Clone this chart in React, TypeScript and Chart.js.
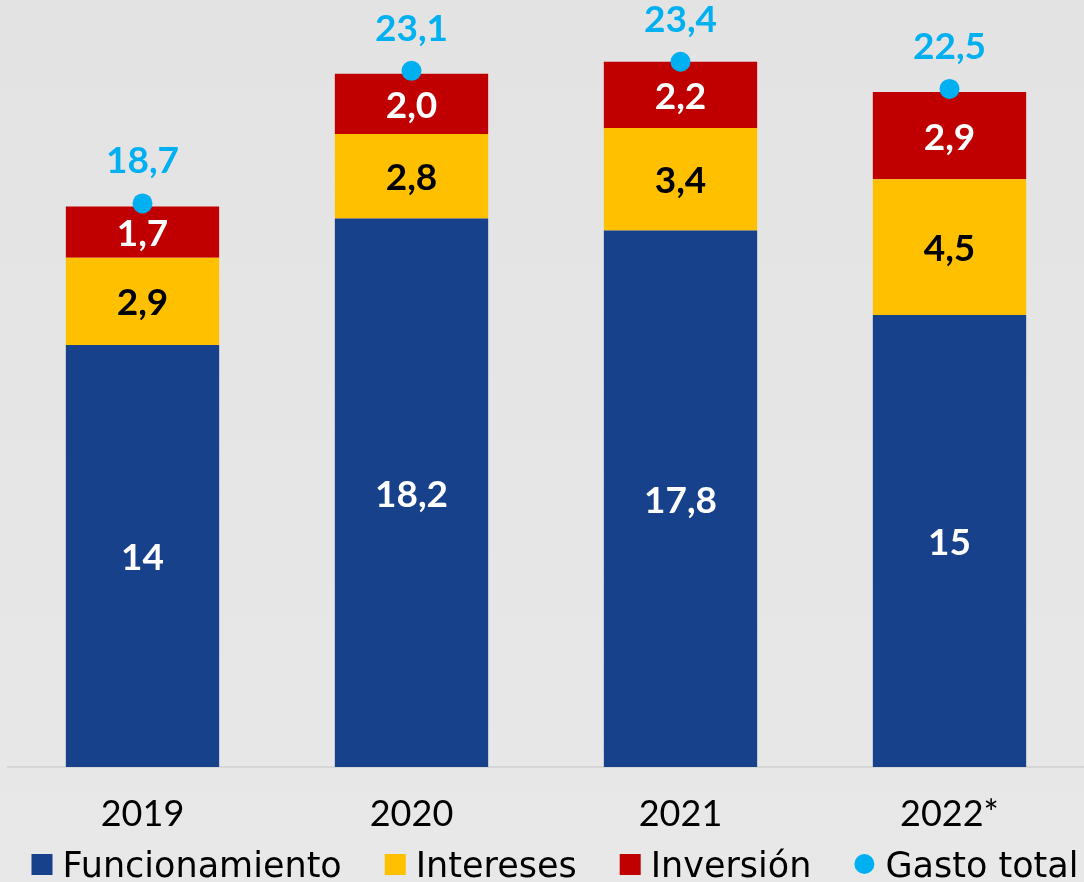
import React, { useEffect, useRef } from "react";
import { Chart, registerables } from "chart.js";

Chart.register(...registerables);

const categories = ["2019", "2020", "2021", "2022*"];
const funcionamiento = [14, 18.2, 17.8, 15];
const intereses = [2.9, 2.8, 3.4, 4.5];
const inversion = [1.7, 2.0, 2.2, 2.9];
const gastoTotal = [18.7, 23.1, 23.4, 22.5];
const seriesNames = ["Funcionamiento", "Intereses", "Inversión", "Gasto total"];
const seriesColors = ["#17418a", "#ffc000", "#c00000", "#00b0f0"];
const labelColors = ["#ffffff", "#000000", "#ffffff", "#00b0f0"];

const W = 1084;
const H = 882;

const fmtPlain = (v: number) => String(v).replace(".", ",");
const fmtOne = (v: number) => v.toFixed(1).replace(".", ",");

const bgPlugin = {
  id: "bg",
  beforeDraw(chart: any) {
    const ctx = chart.ctx;
    const g = ctx.createLinearGradient(0, 0, 0, H);
    g.addColorStop(0, "#e3e3e3");
    g.addColorStop(1, "#e8e8e8");
    ctx.save();
    ctx.fillStyle = g;
    ctx.fillRect(0, 0, chart.width, chart.height);
    ctx.restore();
  },
};

const valueLabelPlugin = {
  id: "valueLabels",
  afterDatasetsDraw(chart: any) {
    const ctx = chart.ctx;
    ctx.save();
    ctx.textAlign = "center";
    ctx.textBaseline = "middle";
    ctx.font = "bold 37px Lato";
    for (let d = 0; d < 3; d++) {
      const meta = chart.getDatasetMeta(d);
      const vals = chart.data.datasets[d].data as number[];
      meta.data.forEach((el: any, i: number) => {
        const cy = (el.y + el.base) / 2;
        ctx.fillStyle = labelColors[d];
        const txt = d === 0 ? fmtPlain(vals[i]) : fmtOne(vals[i]);
        ctx.fillText(txt, el.x, cy + 2);
      });
    }
    const pm = chart.getDatasetMeta(3);
    const pv = chart.data.datasets[3].data as number[];
    pm.data.forEach((el: any, i: number) => {
      ctx.fillStyle = labelColors[3];
      ctx.fillText(fmtOne(pv[i]), el.x, el.y - 42);
    });
    ctx.restore();
  },
};

const legendPlugin = {
  id: "customLegend",
  afterDraw(chart: any) {
    const ctx = chart.ctx;
    ctx.save();
    ctx.font = "35px 'DejaVu Sans'";
    ctx.textBaseline = "alphabetic";
    ctx.textAlign = "left";
    const marker = 21;
    const gap = 10;
    const itemGap = 43;
    const widths = seriesNames.map((n) => ctx.measureText(n).width);
    const total =
      widths.reduce((a, b) => a + b, 0) + seriesNames.length * (marker + gap) + itemGap * (seriesNames.length - 1);
    let x = 555 - total / 2;
    const baseline = 877;
    seriesNames.forEach((n, i) => {
      ctx.fillStyle = seriesColors[i];
      if (i === 3) {
        ctx.beginPath();
        ctx.arc(x + 10, 864, 10, 0, Math.PI * 2);
        ctx.fill();
      } else {
        ctx.fillRect(x, 854, marker, marker);
      }
      ctx.fillStyle = "#000000";
      ctx.fillText(n, x + marker + gap, baseline);
      x += marker + gap + widths[i] + itemGap;
    });
    ctx.restore();
  },
};

export default function App() {
  const ref = useRef<HTMLCanvasElement | null>(null);

  useEffect(() => {
    document.body.style.margin = "0";
    if (!ref.current) return;
    const barCommon = {
      type: "bar" as const,
      stack: "gasto",
      barPercentage: 0.57,
      categoryPercentage: 1,
      order: 1,
      borderWidth: 0,
    };
    const chart = new Chart(ref.current, {
      type: "bar",
      data: {
        labels: categories,
        datasets: [
          { ...barCommon, label: seriesNames[0], data: funcionamiento, backgroundColor: seriesColors[0] },
          { ...barCommon, label: seriesNames[1], data: intereses, backgroundColor: seriesColors[1] },
          { ...barCommon, label: seriesNames[2], data: inversion, backgroundColor: seriesColors[2] },
          {
            type: "line" as const,
            label: seriesNames[3],
            data: gastoTotal,
            stack: "total",
            showLine: false,
            pointRadius: 10,
            pointHoverRadius: 10,
            pointBackgroundColor: seriesColors[3],
            pointBorderWidth: 0,
            borderColor: seriesColors[3],
            backgroundColor: seriesColors[3],
            order: 0,
            clip: false,
          } as any,
        ],
      },
      options: {
        responsive: false,
        animation: false,
        layout: { autoPadding: false, padding: { left: 8, right: 0, top: 0, bottom: 0 } },
        plugins: {
          legend: { display: false },
          tooltip: { enabled: false },
        },
        scales: {
          x: {
            stacked: true,
            grid: { display: false, drawTicks: false },
            border: { display: true, color: "#d6d6d6", width: 2 },
            ticks: {
              color: "#000000",
              font: { family: "Lato", size: 36 },
              padding: 26,
            },
            afterFit: (scale: any) => {
              scale.height = 115;
              scale.paddingLeft = 0;
              scale.paddingRight = 0;
            },
          },
          y: {
            stacked: true,
            display: false,
            min: 0,
            max: 25.45,
          },
        },
      },
      plugins: [bgPlugin, valueLabelPlugin, legendPlugin],
    });
    return () => chart.destroy();
  }, []);

  return (
    <div style={{ width: W, height: H }}>
      <canvas ref={ref} width={W} height={H} style={{ display: "block" }} />
    </div>
  );
}
